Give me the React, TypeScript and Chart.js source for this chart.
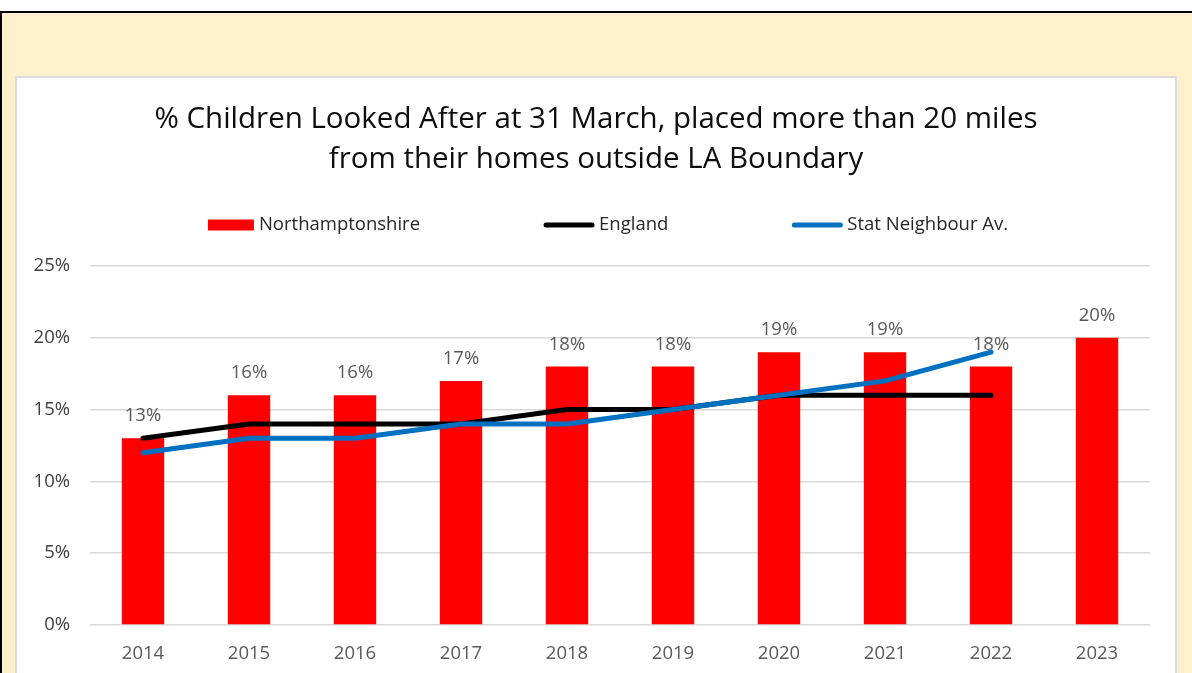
import React, { useEffect, useRef } from "react";
import { Chart, registerables } from "chart.js";

Chart.register(...registerables);

const years = ["2014", "2015", "2016", "2017", "2018", "2019", "2020", "2021", "2022", "2023"];
const northamptonshire = [13, 16, 16, 17, 18, 18, 19, 19, 18, 20];
const england = [13, 14, 14, 14, 15, 15, 16, 16, 16, null];
const statNeighbour = [12, 13, 13, 14, 14, 15, 16, 17, 19, null];
const yTicks = [0, 5, 10, 15, 20, 25];
const titleLines = [
  "% Children Looked After at 31 March, placed more than 20 miles",
  "from their homes outside LA Boundary",
];

const FONT = "'Open Sans', 'Noto Sans', sans-serif";
const RED = "#FF0000";
const BLACK = "#000000";
const BLUE = "#0070C0";

const dataLabelPlugin = {
  id: "barLabels",
  afterDatasetsDraw(chart: any) {
    const ctx = chart.ctx;
    const meta = chart.getDatasetMeta(0);
    ctx.save();
    ctx.font = `18.5px ${FONT}`;
    ctx.fillStyle = "#595959";
    ctx.textAlign = "center";
    ctx.textBaseline = "alphabetic";
    meta.data.forEach((bar: any, i: number) => {
      const v = northamptonshire[i];
      if (v == null) return;
      ctx.fillText(`${v}%`, bar.x, bar.y - 17);
    });
    ctx.restore();
  },
};

const legendPlugin = {
  id: "customLegend",
  afterDraw(chart: any) {
    const ctx = chart.ctx;
    const items = [
      { text: "Northamptonshire", type: "box", color: RED, sw: 46 },
      { text: "England", type: "line", color: BLACK, sw: 50 },
      { text: "Stat Neighbour Av.", type: "line", color: BLUE, sw: 50 },
    ];
    ctx.save();
    ctx.font = `18.5px ${FONT}`;
    const gapSym = 5;
    const gapItem = 124;
    const widths = items.map((it) => it.sw + gapSym + ctx.measureText(it.text).width);
    const total = widths.reduce((a, b) => a + b, 0) + gapItem * (items.length - 1);
    const cx = 591;
    const cy = 147;
    let x = cx - total / 2;
    items.forEach((it, i) => {
      if (it.type === "box") {
        ctx.fillStyle = it.color;
        ctx.fillRect(x, cy - 5.5, it.sw, 11);
      } else {
        ctx.strokeStyle = it.color;
        ctx.lineWidth = 5;
        ctx.lineCap = "round";
        ctx.beginPath();
        ctx.moveTo(x + 2, cy);
        ctx.lineTo(x + it.sw - 2, cy);
        ctx.stroke();
      }
      ctx.fillStyle = "#262626";
      ctx.textAlign = "left";
      ctx.textBaseline = "middle";
      ctx.fillText(it.text, x + it.sw + gapSym, cy);
      x += widths[i] + gapItem;
    });
    ctx.restore();
  },
};

export default function App() {
  const canvasRef = useRef<HTMLCanvasElement | null>(null);

  useEffect(() => {
    if (!canvasRef.current) return;
    const chart = new Chart(canvasRef.current, {
      type: "bar",
      data: {
        labels: years,
        datasets: [
          {
            type: "bar",
            label: "Northamptonshire",
            data: northamptonshire,
            backgroundColor: RED,
            borderWidth: 0,
            barPercentage: 0.4,
            categoryPercentage: 1,
            order: 3,
          },
          {
            type: "line",
            label: "England",
            data: england as any,
            borderColor: BLACK,
            backgroundColor: BLACK,
            borderWidth: 5,
            borderCapStyle: "round",
            borderJoinStyle: "round",
            pointRadius: 0,
            tension: 0,
            fill: false,
            spanGaps: false,
            order: 2,
          },
          {
            type: "line",
            label: "Stat Neighbour Av.",
            data: statNeighbour as any,
            borderColor: BLUE,
            backgroundColor: BLUE,
            borderWidth: 5,
            borderCapStyle: "round",
            borderJoinStyle: "round",
            pointRadius: 0,
            tension: 0,
            fill: false,
            spanGaps: false,
            order: 1,
          },
        ],
      },
      options: {
        responsive: false,
        animation: false,
        maintainAspectRatio: false,
        layout: { padding: { top: 0, left: 0, right: 0, bottom: 13 } },
        plugins: {
          legend: { display: false },
          tooltip: { enabled: false },
          title: {
            display: true,
            text: titleLines,
            color: "#0d0d0d",
            font: { family: FONT, size: 29.5, weight: "normal", lineHeight: 40 / 29.5 },
            padding: { top: 22, bottom: 86 },
          },
        },
        scales: {
          x: {
            grid: { display: false, drawTicks: false },
            border: { display: false },
            ticks: {
              color: "#595959",
              font: { family: FONT, size: 18.5 },
              padding: 18,
            },
            afterFit(scale: any) {
              scale.height = 40;
            },
          },
          y: {
            min: 0,
            max: 25,
            grid: { color: "#d9d9d9", lineWidth: 1.5, drawTicks: false },
            border: { display: false },
            afterBuildTicks(scale: any) {
              scale.ticks = yTicks.map((v) => ({ value: v }));
            },
            ticks: {
              color: "#404040",
              font: { family: FONT, size: 18.5 },
              padding: 20,
              callback: (v: any) => `${v}%`,
            },
            afterFit(scale: any) {
              scale.width = 73;
            },
          },
          spacer: {
            type: "linear",
            position: "right",
            display: true,
            grid: { display: false, drawTicks: false },
            border: { display: false },
            ticks: { display: false },
            afterFit(scale: any) {
              scale.width = 25;
            },
          },
        },
      },
      plugins: [dataLabelPlugin, legendPlugin],
    });
    return () => chart.destroy();
  }, []);

  return (
    <div
      style={{
        position: "fixed",
        left: 0,
        top: 0,
        width: 1192,
        height: 673,
        overflow: "hidden",
        background: "#ffffff",
      }}
    >
      <div
        style={{
          position: "absolute",
          left: 0,
          top: 11,
          width: 1192,
          height: 662,
          background: "#FFF0CD",
          borderTop: "2px solid #000",
          borderLeft: "2px solid #000",
          boxSizing: "border-box",
        }}
      />
      <div
        style={{
          position: "absolute",
          left: 15,
          top: 76,
          width: 1162,
          height: 640,
          background: "#ffffff",
          border: "2px solid #dcdcdc",
          boxSizing: "border-box",
        }}
      >
        <canvas
          ref={canvasRef}
          width={1158}
          height={600}
          style={{ display: "block", width: 1158, height: 600 }}
        />
      </div>
    </div>
  );
}
